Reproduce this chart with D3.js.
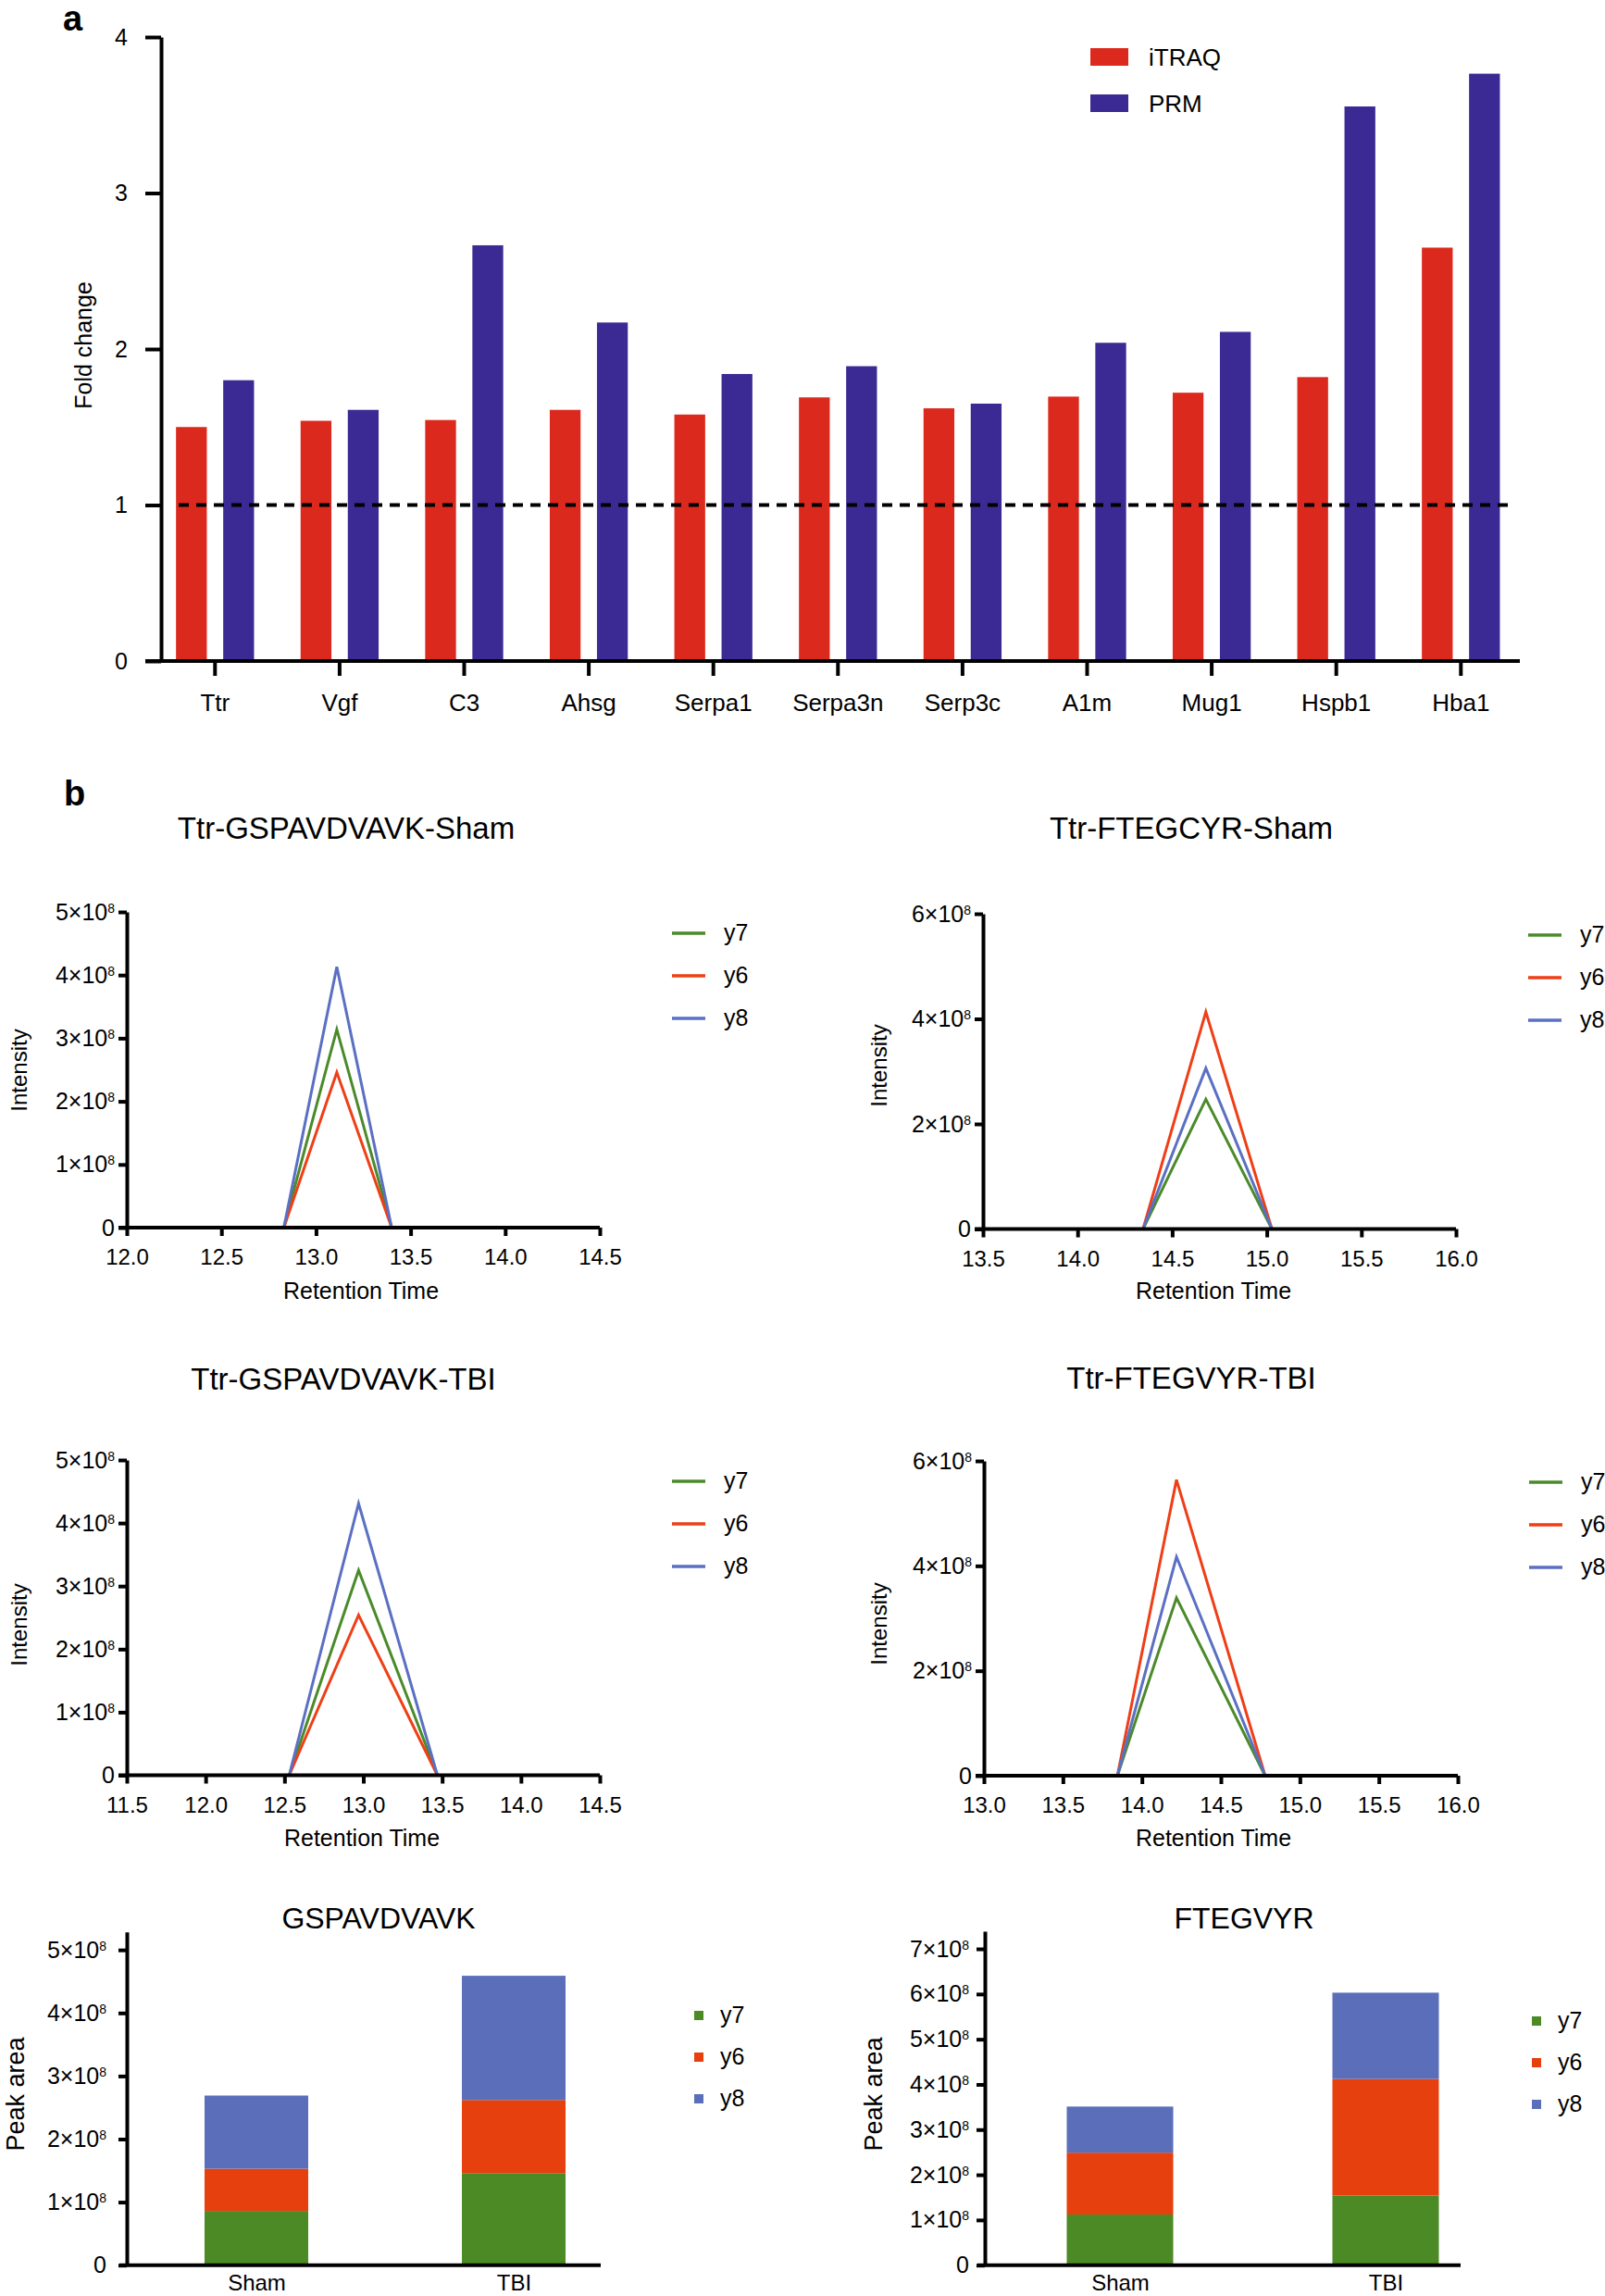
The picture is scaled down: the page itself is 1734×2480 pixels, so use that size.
<!DOCTYPE html>
<html><head><meta charset="utf-8">
<script src="https://cdn.jsdelivr.net/npm/d3@7"></script>
<style>
body{margin:0;background:#fff;}
svg{display:block;font-family:"Liberation Sans",Arial,Helvetica,sans-serif;}
</style></head>
<body>
<svg id="fig" width="1734" height="2480"></svg>
<script>
// ---------------- DATA ----------------
// Panel a
const genes = ["Ttr","Vgf","C3","Ahsg","Serpa1","Serpa3n","Serp3c","A1m","Mug1","Hspb1","Hba1"];
const methods = ["iTRAQ","PRM"];
const itraqFold = [1.50, 1.54, 1.545, 1.61, 1.58, 1.69, 1.62, 1.695, 1.72, 1.82, 2.65];
const prmFold   = [1.80, 1.61, 2.665, 2.17, 1.84, 1.89, 1.65, 2.04, 2.11, 3.555, 3.765];
const foldTicks = [0, 1, 2, 3, 4];

// Panel b – chromatograms
const ions = ["y7", "y6", "y8"];
const shamGspRT = [12.83, 13.11, 13.40];
const shamGspY7 = [0, 3.14e8, 0];
const shamGspY6 = [0, 2.46e8, 0];
const shamGspY8 = [0, 4.13e8, 0];

const shamFteRT = [14.346, 14.678, 15.027];
const shamFteY7 = [0, 2.47e8, 0];
const shamFteY6 = [0, 4.13e8, 0];
const shamFteY8 = [0, 3.06e8, 0];

const tbiGspRT = [12.53, 12.97, 13.47];
const tbiGspY7 = [0, 3.25e8, 0];
const tbiGspY6 = [0, 2.54e8, 0];
const tbiGspY8 = [0, 4.31e8, 0];

const tbiFteRT = [13.845, 14.219, 14.78];
const tbiFteY7 = [0, 3.39e8, 0];
const tbiFteY6 = [0, 5.64e8, 0];
const tbiFteY8 = [0, 4.17e8, 0];

const rtTicksA = [12.0, 12.5, 13.0, 13.5, 14.0, 14.5];
const rtTicksB = [13.5, 14.0, 14.5, 15.0, 15.5, 16.0];
const rtTicksC = [11.5, 12.0, 12.5, 13.0, 13.5, 14.0, 14.5];
const rtTicksD = [13.0, 13.5, 14.0, 14.5, 15.0, 15.5, 16.0];
const intTicks5 = [0, 1e8, 2e8, 3e8, 4e8, 5e8];
const intTicks6 = [0, 2e8, 4e8, 6e8];

// Peak areas
const groups = ["Sham", "TBI"];
const gspAreaY7 = [0.86e8, 1.46e8];
const gspAreaY6 = [0.67e8, 1.16e8];
const gspAreaY8 = [1.16e8, 1.97e8];
const fteAreaY7 = [1.12e8, 1.54e8];
const fteAreaY6 = [1.37e8, 2.58e8];
const fteAreaY8 = [1.02e8, 1.91e8];
const areaTicks5 = [0, 1e8, 2e8, 3e8, 4e8, 5e8];
const areaTicks7 = [0, 1e8, 2e8, 3e8, 4e8, 5e8, 6e8, 7e8];

// ---------------- STYLE ----------------
const barColors = {iTRAQ: "#dc291d", PRM: "#3b2a93"};
const lineColors = {y7: "#4b8a2a", y6: "#ee3f17", y8: "#5b70c2"};
const areaColors = {y7: "#4b8a24", y6: "#e5400e", y8: "#5b6eba"};

const svg = d3.select("#fig");

function styleAxis(g, sw, fs) {
  g.selectAll(".domain").attr("stroke", "#000").attr("stroke-width", sw);
  g.selectAll(".tick line").attr("stroke", "#000").attr("stroke-width", sw);
  g.selectAll(".tick text").attr("fill", "#000").attr("font-size", fs)
    .attr("font-family", '"Liberation Sans",Arial,sans-serif');
}
function sciFormat(g, supSize, shift) {
  g.selectAll(".tick text").each(function(d) {
    const t = d3.select(this);
    const m = Math.round(d / 1e8);
    t.text(null);
    if (m === 0) { t.text("0"); return; }
    t.append("tspan").text(m + "×10");
    t.append("tspan").attr("dy", -shift).attr("font-size", supSize).text("8");
  });
}

// ---------------- PANEL A ----------------
svg.append("text").attr("x", 68).attr("y", 33).attr("font-size", 38)
  .attr("font-weight", "bold").text("a");

const xA = d3.scaleBand().domain(genes).range([165, 1645.6]).padding(0);
const xInner = d3.scaleBand().domain(methods).range([-42.15, 42.15]).paddingInner(0.347).paddingOuter(0);
const yA = d3.scaleLinear().domain([0, 4]).range([714, 40]);

// bars
const rowsA = genes.map((g, i) => ({gene: g, iTRAQ: itraqFold[i], PRM: prmFold[i]}));
const gA = svg.append("g");
rowsA.forEach(r => {
  methods.forEach(m => {
    gA.append("rect")
      .attr("x", xA(r.gene) + xA.bandwidth() / 2 + xInner(m))
      .attr("y", yA(r[m]))
      .attr("width", xInner.bandwidth())
      .attr("height", yA(0) - yA(r[m]))
      .attr("fill", barColors[m]);
  });
});

// dashed reference line at 1
svg.append("line").attr("x1", 193).attr("x2", 1636)
  .attr("y1", yA(1)).attr("y2", yA(1))
  .attr("stroke", "#000").attr("stroke-width", 4).attr("stroke-dasharray", "11,8");

// axes
const yAxisA = svg.append("g").attr("transform", "translate(174,0)")
  .call(d3.axisLeft(yA).tickValues(foldTicks).tickFormat(d3.format("d"))
    .tickSize(17).tickPadding(19).tickSizeOuter(0));
styleAxis(yAxisA, 4, 25);

const xAxisA = svg.append("g").attr("transform", `translate(0,${yA(0)})`)
  .call(d3.axisBottom(xA).tickSize(16).tickPadding(20).tickSizeOuter(0));
xAxisA.select(".domain").remove();
styleAxis(xAxisA, 4, 26);
svg.append("line").attr("x1", 157).attr("x2", 1642).attr("y1", yA(0)).attr("y2", yA(0))
  .attr("stroke", "#000").attr("stroke-width", 4);

svg.append("text").attr("transform", "translate(99,373) rotate(-90)")
  .attr("text-anchor", "middle").attr("font-size", 25).text("Fold change");

// legend a
methods.forEach((m, i) => {
  svg.append("rect").attr("x", 1178).attr("y", 52 + i * 50).attr("width", 41).attr("height", 19)
    .attr("fill", barColors[m]);
  svg.append("text").attr("x", 1241).attr("y", 71 + i * 50).attr("font-size", 26).text(m);
});

// ---------------- PANEL B ----------------
svg.append("text").attr("x", 69).attr("y", 870).attr("font-size", 38)
  .attr("font-weight", "bold").text("b");

function lineChart(cfg) {
  const x = d3.scaleLinear().domain(cfg.xDomain).range(cfg.xRange);
  const y = d3.scaleLinear().domain(cfg.yDomain).range(cfg.yRange);
  const g = svg.append("g");
  const line = d3.line().x(d => x(d[0])).y(d => y(d[1]));
  ions.forEach((ion, k) => {
    const pts = cfg.rt.map((t, i) => [t, cfg.series[k][i]]);
    g.append("path").datum(pts).attr("d", line).attr("fill", "none")
      .attr("stroke", lineColors[ion]).attr("stroke-width", 3).attr("stroke-linejoin", "miter");
  });
  // axes
  const ya = g.append("g").attr("transform", `translate(${cfg.xRange[0]},0)`)
    .call(d3.axisLeft(y).tickValues(cfg.yTicks).tickSize(9).tickPadding(4).tickSizeOuter(0));
  styleAxis(ya, 4, 25);
  sciFormat(ya, 14, 8);
  const xa = g.append("g").attr("transform", `translate(0,${cfg.yRange[0]})`)
    .call(d3.axisBottom(x).tickValues(cfg.xTicks).tickFormat(d3.format(".1f"))
      .tickSize(9).tickPadding(14).tickSizeOuter(0));
  xa.select(".domain").remove();
  styleAxis(xa, 4, 24);
  g.append("line").attr("x1", cfg.xRange[0] - 9).attr("x2", cfg.xRange[1])
    .attr("y1", cfg.yRange[0]).attr("y2", cfg.yRange[0]).attr("stroke", "#000").attr("stroke-width", 4);
  // texts
  g.append("text").attr("x", cfg.titleX).attr("y", cfg.titleY).attr("text-anchor", "middle")
    .attr("font-size", 33).text(cfg.title);
  g.append("text").attr("x", cfg.xLabelX).attr("y", cfg.xLabelY).attr("text-anchor", "middle")
    .attr("font-size", 25).text("Retention Time");
  g.append("text").attr("transform", `translate(${cfg.yLabelX},${cfg.yLabelY}) rotate(-90)`)
    .attr("text-anchor", "middle").attr("font-size", 24).text("Intensity");
  // legend
  ions.forEach((ion, i) => {
    const ly = cfg.legY + i * 46;
    g.append("line").attr("x1", cfg.legX).attr("x2", cfg.legX + 36).attr("y1", ly).attr("y2", ly)
      .attr("stroke", lineColors[ion]).attr("stroke-width", 3.5);
    g.append("text").attr("x", cfg.legX + 56).attr("y", ly + 8).attr("font-size", 25).text(ion);
  });
}

lineChart({title: "Ttr-GSPAVDVAVK-Sham", titleX: 374, titleY: 906,
  rt: shamGspRT, series: [shamGspY7, shamGspY6, shamGspY8],
  xDomain: [12, 14.5], xRange: [137, 648], yDomain: [0, 5e8], yRange: [1326, 985],
  xTicks: rtTicksA, yTicks: intTicks5,
  xLabelX: 390, xLabelY: 1403, yLabelX: 29, yLabelY: 1156, legX: 726, legY: 1008});

lineChart({title: "Ttr-FTEGCYR-Sham", titleX: 1287, titleY: 906,
  rt: shamFteRT, series: [shamFteY7, shamFteY6, shamFteY8],
  xDomain: [13.5, 16], xRange: [1062, 1573], yDomain: [0, 6e8], yRange: [1327.5, 987],
  xTicks: rtTicksB, yTicks: intTicks6,
  xLabelX: 1311, xLabelY: 1403, yLabelX: 958, yLabelY: 1151, legX: 1651, legY: 1010});

lineChart({title: "Ttr-GSPAVDVAVK-TBI", titleX: 371, titleY: 1501,
  rt: tbiGspRT, series: [tbiGspY7, tbiGspY6, tbiGspY8],
  xDomain: [11.5, 14.5], xRange: [137, 648], yDomain: [0, 5e8], yRange: [1917.5, 1577],
  xTicks: rtTicksC, yTicks: intTicks5,
  xLabelX: 391, xLabelY: 1994, yLabelX: 29, yLabelY: 1755, legX: 726, legY: 1600});

lineChart({title: "Ttr-FTEGVYR-TBI", titleX: 1287, titleY: 1500,
  rt: tbiFteRT, series: [tbiFteY7, tbiFteY6, tbiFteY8],
  xDomain: [13, 16], xRange: [1063, 1575], yDomain: [0, 6e8], yRange: [1918, 1578],
  xTicks: rtTicksD, yTicks: intTicks6,
  xLabelX: 1311, xLabelY: 1994, yLabelX: 958, yLabelY: 1754, legX: 1652, legY: 1601});

// ---------------- Stacked peak-area bars ----------------
function stackChart(cfg) {
  const rows = groups.map((gr, i) => ({group: gr, y7: cfg.y7[i], y6: cfg.y6[i], y8: cfg.y8[i]}));
  const stacked = d3.stack().keys(ions)(rows);
  const x = d3.scalePoint().domain(groups).range(cfg.centers);
  const y = d3.scaleLinear().domain(cfg.yDomain).range(cfg.yRange);
  const g = svg.append("g");
  stacked.forEach(layer => {
    layer.forEach(seg => {
      g.append("rect").attr("x", x(seg.data.group) - cfg.barW / 2).attr("width", cfg.barW)
        .attr("y", y(seg[1])).attr("height", y(seg[0]) - y(seg[1]))
        .attr("fill", areaColors[layer.key]);
    });
  });
  const ya = g.append("g").attr("transform", `translate(${cfg.axisX},0)`)
    .call(d3.axisLeft(y).tickValues(cfg.yTicks).tickSize(9).tickPadding(cfg.pad).tickSizeOuter(0));
  styleAxis(ya, 4, 25);
  sciFormat(ya, 14, 8);
  const xa = g.append("g").attr("transform", `translate(0,${cfg.yRange[0]})`)
    .call(d3.axisBottom(x).tickSize(0).tickPadding(10).tickSizeOuter(0));
  xa.select(".domain").remove();
  styleAxis(xa, 4, 24);
  g.append("line").attr("x1", cfg.axisX - 8).attr("x2", cfg.axisEnd)
    .attr("y1", cfg.yRange[0]).attr("y2", cfg.yRange[0]).attr("stroke", "#000").attr("stroke-width", 4);
  g.append("text").attr("x", cfg.titleX).attr("y", 2083).attr("text-anchor", "middle")
    .attr("font-size", 32).text(cfg.title);
  g.append("text").attr("transform", `translate(${cfg.yLabelX},2262) rotate(-90)`)
    .attr("text-anchor", "middle").attr("font-size", 27).text("Peak area");
  ions.forEach((ion, i) => {
    const ly = cfg.legY + i * 45;
    g.append("rect").attr("x", cfg.legX).attr("y", ly - 5).attr("width", 10).attr("height", 10)
      .attr("fill", areaColors[ion]);
    g.append("text").attr("x", cfg.legX + 28).attr("y", ly + 8).attr("font-size", 25).text(ion);
  });
}

stackChart({title: "GSPAVDVAVK", titleX: 409, y7: gspAreaY7, y6: gspAreaY6, y8: gspAreaY8,
  centers: [277, 555], barW: 112, yDomain: [0, 5.286e8], yRange: [2446.7, 2086.7],
  yTicks: areaTicks5, axisX: 137, axisEnd: 649, pad: 13, yLabelX: 26, legX: 750, legY: 2177});

stackChart({title: "FTEGVYR", titleX: 1344, y7: fteAreaY7, y6: fteAreaY6, y8: fteAreaY8,
  centers: [1210, 1497], barW: 115, yDomain: [0, 7.39e8], yRange: [2446.7, 2086],
  yTicks: areaTicks7, axisX: 1064, axisEnd: 1578, pad: 8, yLabelX: 953, legX: 1655, legY: 2183});
</script>
</body></html>
